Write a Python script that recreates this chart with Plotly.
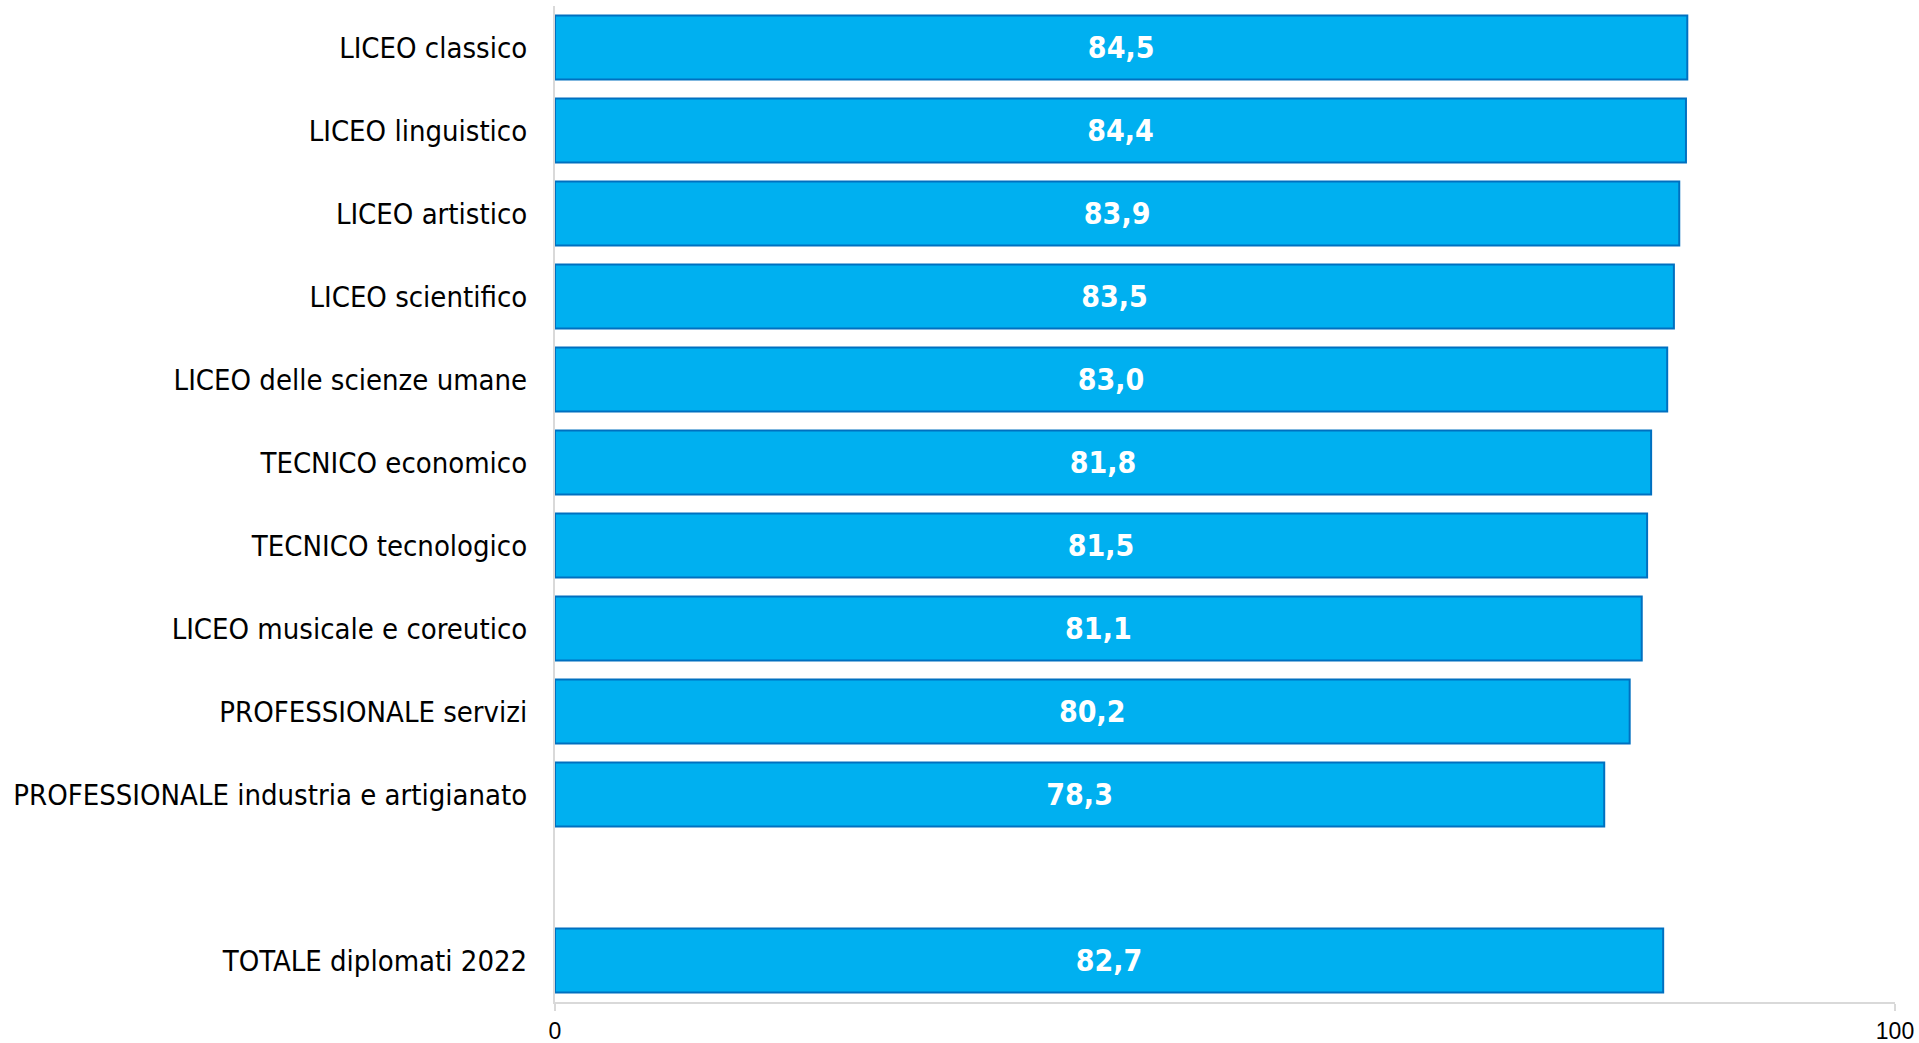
import plotly.graph_objects as go

# Diploma types and their values (percent)
categories = [
    "LICEO classico",
    "LICEO linguistico",
    "LICEO artistico",
    "LICEO scientifico",
    "LICEO delle scienze umane",
    "TECNICO economico",
    "TECNICO tecnologico",
    "LICEO musicale e coreutico",
    "PROFESSIONALE servizi",
    "PROFESSIONALE industria e artigianato",
]
values = [84.5, 84.4, 83.9, 83.5, 83.0, 81.8, 81.5, 81.1, 80.2, 78.3]

total_label = "TOTALE diplomati 2022"
total_value = 82.7

x_ticks = [0, 100]

# Row slots: one empty slot separates the total from the detail rows
labels = categories + [total_label]
vals = values + [total_value]
rows = list(range(len(categories))) + [len(categories) + 1]
texts = [f"{v:.1f}".replace(".", ",") for v in vals]

fig = go.Figure(
    go.Bar(
        x=vals,
        y=rows,
        orientation="h",
        width=0.77,
        marker=dict(color="#00B0F0", line=dict(color="#0070C0", width=2)),
        text=texts,
        textposition="inside",
        insidetextanchor="middle",
        textangle=0,
        textfont=dict(family="DejaVu Sans Condensed", size=30, color="white", weight="bold"),
        hoverinfo="skip",
    )
)

fig.update_layout(
    width=1919,
    height=1043,
    margin=dict(l=555, r=24, t=6, b=41),
    paper_bgcolor="white",
    plot_bgcolor="white",
    showlegend=False,
    uniformtext=dict(mode=False),
)

fig.update_yaxes(
    tickvals=rows,
    ticktext=labels,
    range=[len(categories) + 1.5, -0.5],
    showgrid=False,
    zeroline=False,
    showline=True,
    linecolor="#D9D9D9",
    linewidth=2,
    ticks="",
    ticklabelstandoff=20,
    automargin=False,
    tickfont=dict(family="DejaVu Sans Condensed", size=29, color="black"),
)

fig.update_xaxes(
    range=[0, 100],
    tickvals=x_ticks,
    ticktext=[str(t) for t in x_ticks],
    showgrid=False,
    zeroline=False,
    showline=True,
    linecolor="#D9D9D9",
    linewidth=2,
    ticks="outside",
    ticklen=7,
    tickcolor="#D9D9D9",
    tickwidth=2,
    ticklabelstandoff=0,
    automargin=False,
    tickfont=dict(family="Liberation Sans", size=23, color="black"),
)

fig.write_html("out.html")
